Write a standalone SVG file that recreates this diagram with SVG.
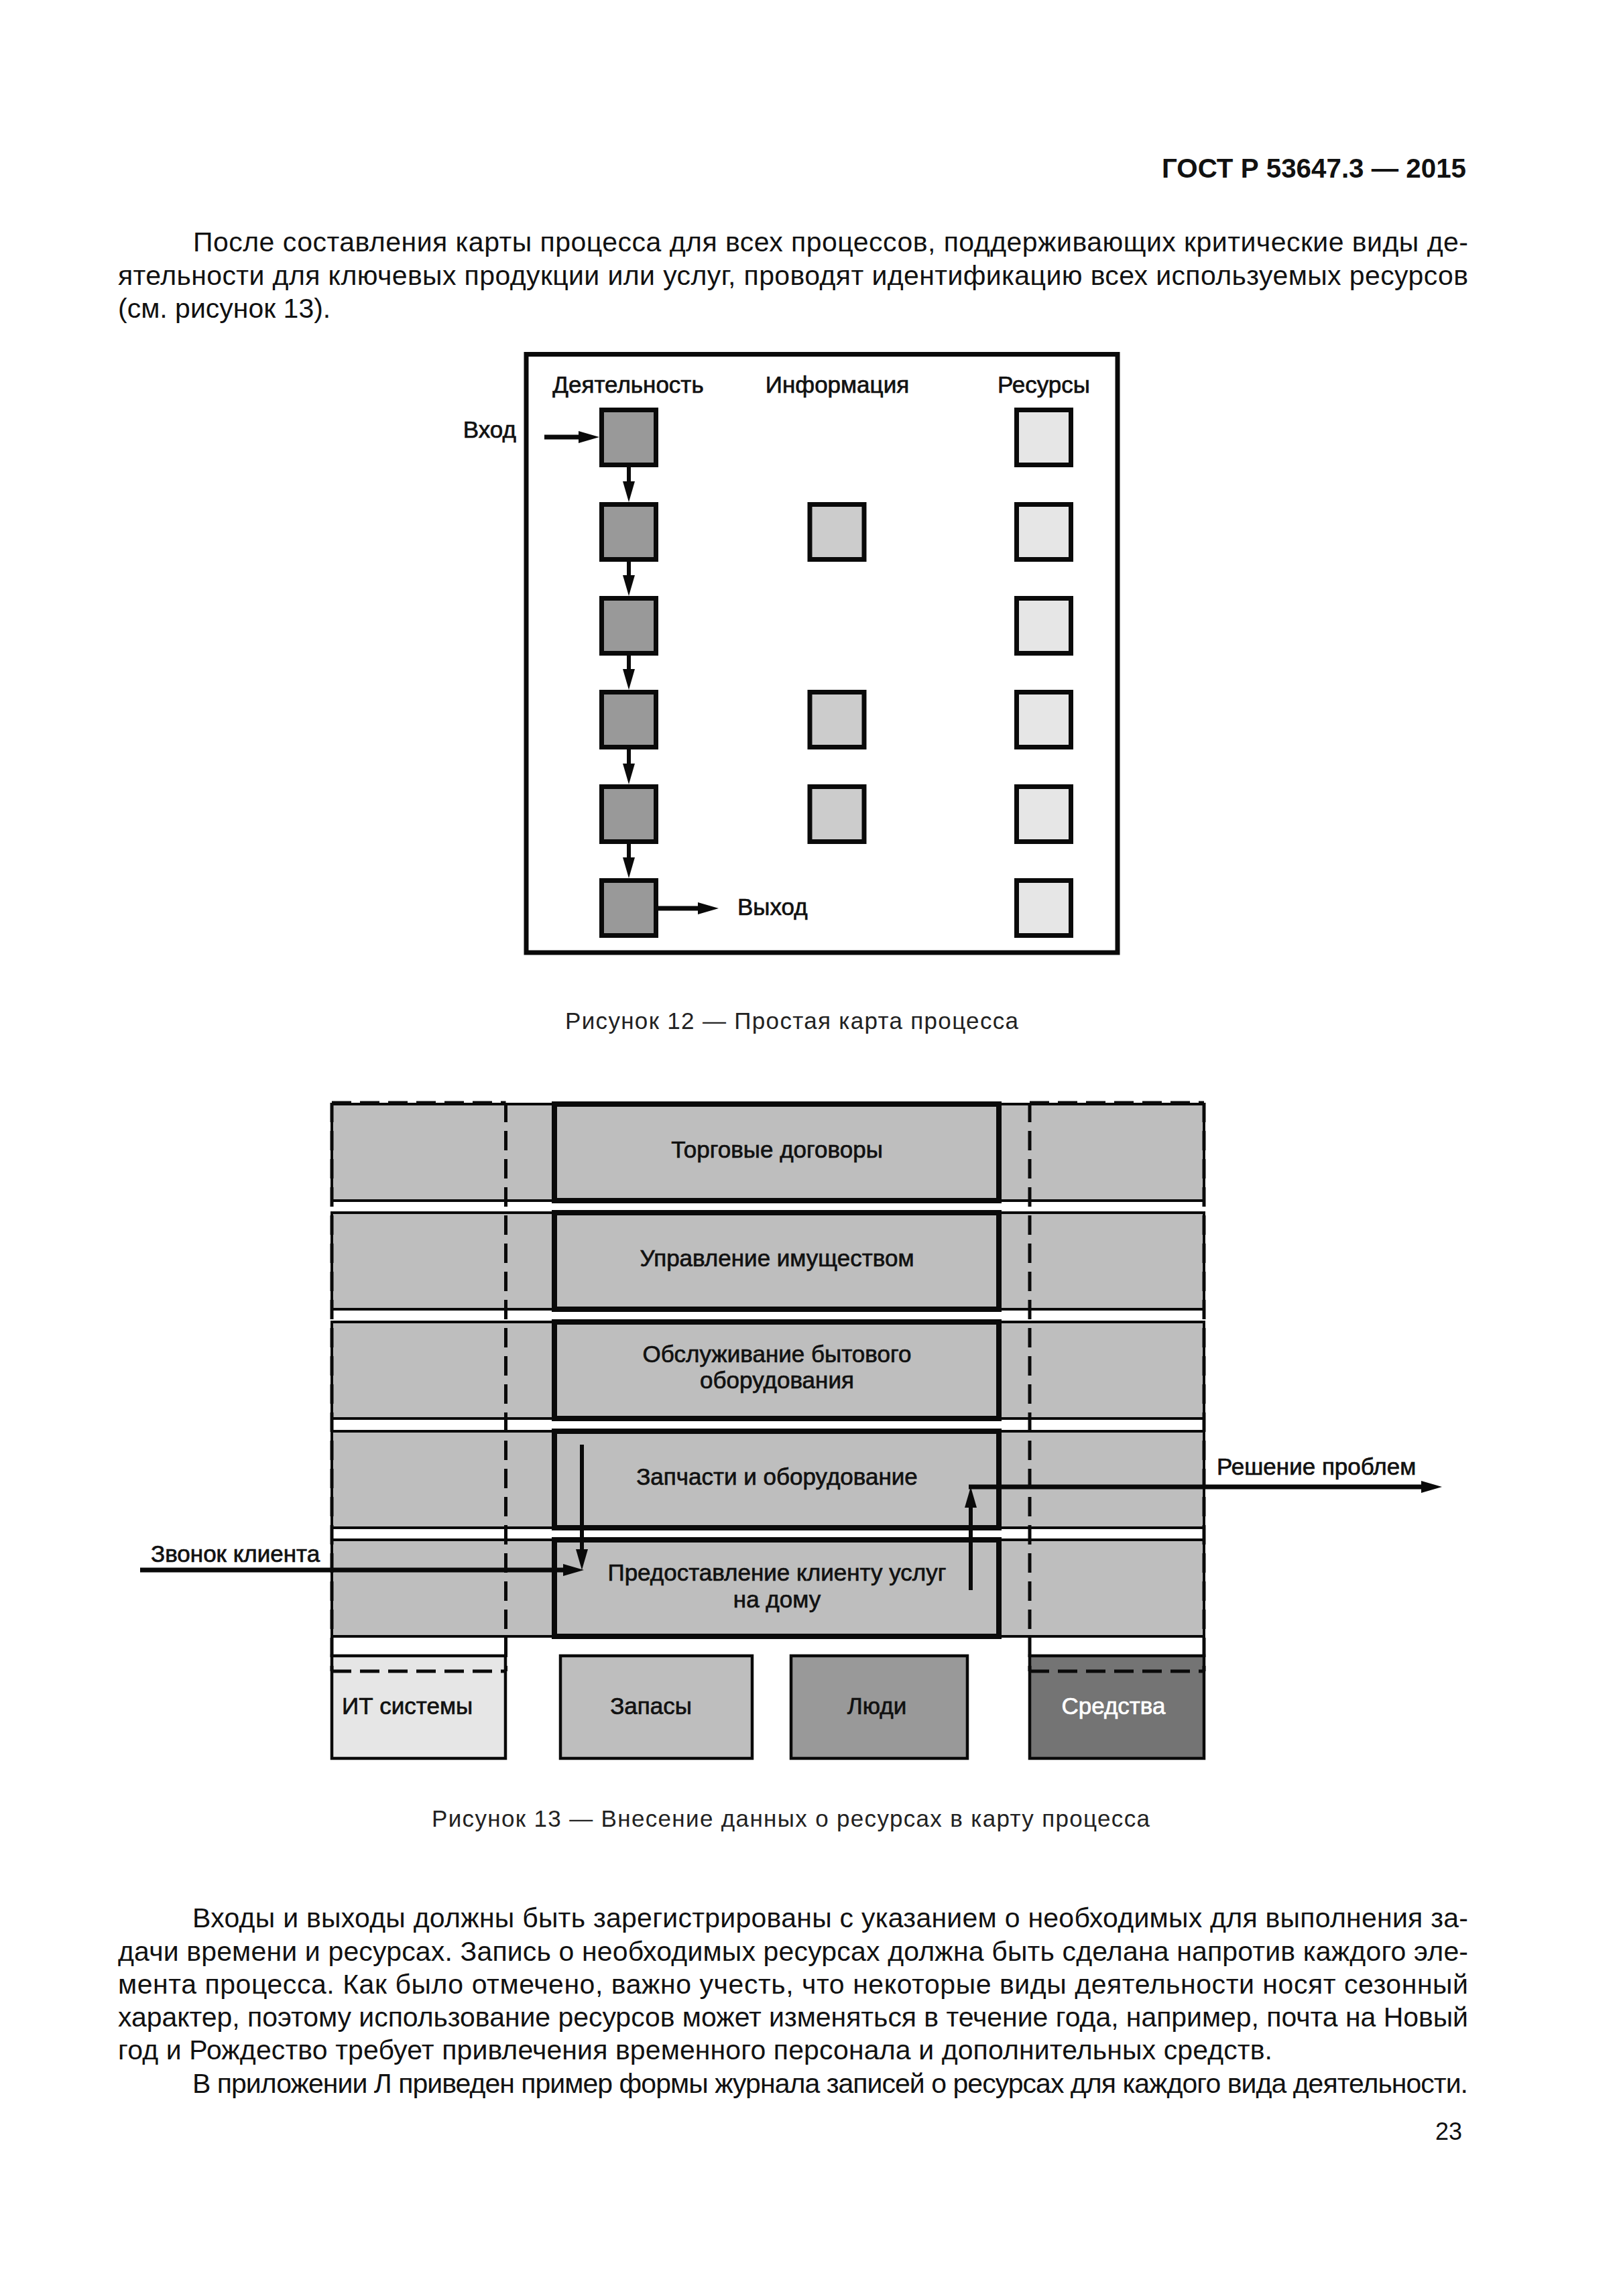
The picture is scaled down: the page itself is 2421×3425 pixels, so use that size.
<svg xmlns="http://www.w3.org/2000/svg" width="2421" height="3425" viewBox="0 0 2421 3425">
<style>
text{font-family:"Liberation Sans",Arial,sans-serif;fill:#111}
.body{font-size:41px}
.cap{font-size:35px;fill:#222}
.lbl{font-size:35px;stroke:#111;stroke-width:0.7}
.lbl13{font-size:35px;stroke:#111;stroke-width:0.7}
.frame{fill:#fff;stroke:#0a0a0a;stroke-width:7}
.act{fill:#999;stroke:#0a0a0a;stroke-width:7}
.inf{fill:#ccc;stroke:#0a0a0a;stroke-width:7}
.res{fill:#e6e6e6;stroke:#0a0a0a;stroke-width:7}
.row{fill:#bebebe;stroke:#0a0a0a;stroke-width:4}
.proc{fill:#bebebe;stroke:#0a0a0a;stroke-width:8}
.rbox{stroke:#0a0a0a;stroke-width:4.5}
.dash{fill:none;stroke:#0a0a0a;stroke-width:5;stroke-dasharray:29 13}
.arr{fill:none;stroke:#0a0a0a;stroke-width:7;marker-end:url(#ah)}
</style>
<defs>
<marker id="ah" viewBox="0 0 31 18" refX="0" refY="9" markerWidth="31" markerHeight="18" markerUnits="userSpaceOnUse" orient="auto">
<path d="M0,0 L31,9 L0,18 z" fill="#0a0a0a"/>
</marker>
</defs>
<rect width="2421" height="3425" fill="#fff"/>

<g id="page-header">
<text x="1733" y="265" font-size="40" font-weight="bold" textLength="454" lengthAdjust="spacingAndGlyphs">ГОСТ Р 53647.3 — 2015</text>
</g>

<g id="para-top" class="body">
<text x="288" y="375" textLength="1902">После составления карты процесса для всех процессов, поддерживающих критические виды де-</text>
<text x="176" y="425" textLength="2014">ятельности для ключевых продукции или услуг, проводят идентификацию всех используемых ресурсов</text>
<text x="176" y="474">(см. рисунок 13).</text>
</g>

<!-- Figure 12 -->
<g id="fig12">
<rect id="fig12-frame" class="frame" x="785" y="528.5" width="882" height="892.5"/>
<g id="fig12-headers" class="lbl" text-anchor="middle">
<text x="937" y="586">Деятельность</text>
<text x="1249" y="586">Информация</text>
<text x="1557" y="586">Ресурсы</text>
</g>
<g id="act1"><rect class="act" x="897.5" y="611.5" width="81" height="82"/></g>
<g id="act2"><rect class="act" x="897.5" y="752.5" width="81" height="82"/></g>
<g id="act3"><rect class="act" x="897.5" y="892.5" width="81" height="82"/></g>
<g id="act4"><rect class="act" x="897.5" y="1032.5" width="81" height="82"/></g>
<g id="act5"><rect class="act" x="897.5" y="1173.5" width="81" height="82"/></g>
<g id="act6"><rect class="act" x="897.5" y="1313.5" width="81" height="82"/></g>
<g id="inf2"><rect class="inf" x="1208" y="752.5" width="81" height="82"/></g>
<g id="inf4"><rect class="inf" x="1208" y="1032.5" width="81" height="82"/></g>
<g id="inf5"><rect class="inf" x="1208" y="1173.5" width="81" height="82"/></g>
<g id="res1"><rect class="res" x="1516.5" y="611.5" width="81" height="82"/></g>
<g id="res2"><rect class="res" x="1516.5" y="752.5" width="81" height="82"/></g>
<g id="res3"><rect class="res" x="1516.5" y="892.5" width="81" height="82"/></g>
<g id="res4"><rect class="res" x="1516.5" y="1032.5" width="81" height="82"/></g>
<g id="res5"><rect class="res" x="1516.5" y="1173.5" width="81" height="82"/></g>
<g id="res6"><rect class="res" x="1516.5" y="1313.5" width="81" height="82"/></g>
<g id="fig12-labels" class="lbl">
<text x="770" y="653" text-anchor="end">Вход</text>
<text x="1100" y="1365">Выход</text>
</g>
<g id="fig12-connectors">
<path class="arr" d="M812,652 H863"/>
<path class="arr" style="stroke-width:6" d="M938,697 V718"/>
<path class="arr" style="stroke-width:6" d="M938,838 V858"/>
<path class="arr" style="stroke-width:6" d="M938,978 V998"/>
<path class="arr" style="stroke-width:6" d="M938,1118 V1139"/>
<path class="arr" style="stroke-width:6" d="M938,1259 V1279"/>
<path class="arr" d="M982,1355 H1041"/>
</g>
</g>
<text class="cap" x="843" y="1535" textLength="676">Рисунок 12 — Простая карта процесса</text>

<!-- Figure 13 -->
<g id="fig13">
<g id="row1"><rect class="row" x="495" y="1647" width="1301" height="144"/><rect class="proc" x="827" y="1647" width="663" height="144"/>
<text class="lbl13" x="1159" y="1727" text-anchor="middle">Торговые договоры</text></g>
<g id="row2"><rect class="row" x="495" y="1809" width="1301" height="144"/><rect class="proc" x="827" y="1809" width="663" height="144"/>
<text class="lbl13" x="1159" y="1889" text-anchor="middle">Управление имуществом</text></g>
<g id="row3"><rect class="row" x="495" y="1972" width="1301" height="144"/><rect class="proc" x="827" y="1972" width="663" height="144"/>
<text class="lbl13" x="1159" y="2032" text-anchor="middle">Обслуживание бытового</text>
<text class="lbl13" x="1159" y="2071" text-anchor="middle">оборудования</text></g>
<g id="row4"><rect class="row" x="495" y="2135" width="1301" height="144"/><rect class="proc" x="827" y="2135" width="663" height="144"/>
<text class="lbl13" x="1159" y="2215" text-anchor="middle">Запчасти и оборудование</text></g>
<g id="row5"><rect class="row" x="495" y="2297" width="1301" height="144"/><rect class="proc" x="827" y="2297" width="663" height="144"/>
<text class="lbl13" x="1159" y="2358" text-anchor="middle">Предоставление клиенту услуг</text>
<text class="lbl13" x="1159" y="2398" text-anchor="middle">на дому</text></g>

<g id="it-systems"><rect class="rbox" x="495" y="2470" width="259" height="153" fill="#e6e6e6"/>
<text class="lbl13" x="510" y="2557">ИТ системы</text></g>
<g id="stocks"><rect class="rbox" x="836" y="2470" width="286" height="153" fill="#bebebe"/>
<text class="lbl13" x="971" y="2557" text-anchor="middle">Запасы</text></g>
<g id="people"><rect class="rbox" x="1180" y="2470" width="263" height="153" fill="#999"/>
<text class="lbl13" x="1308" y="2557" text-anchor="middle">Люди</text></g>
<g id="facilities"><rect class="rbox" x="1536" y="2470" width="260" height="153" fill="#747474"/>
<text class="lbl13" x="1661" y="2557" text-anchor="middle" style="fill:#fff;stroke:#fff">Средства</text></g>

<g id="columns-dashed">
<path class="dash" d="M495,1645 V2493 M754.5,1645 V2493 M495,1645 H754.5 M495,2493 H754.5"/>
<path class="dash" d="M1536,1645 V2493 M1796,1645 V2493 M1536,1645 H1796 M1536,2493 H1796"/>
</g>

<g id="fig13-connectors">
<path class="arr" d="M209,2342 H840"/>
<path class="arr" style="stroke-width:6" d="M868,2155 V2311"/>
<path class="arr" style="stroke-width:6" d="M1448,2372 V2249"/>
<path class="arr" d="M1445,2218 H2120"/>
</g>
<g id="fig13-labels" class="lbl13">
<text x="225" y="2330">Звонок клиента</text>
<text x="1815" y="2200">Решение проблем</text>
</g>
</g>
<text class="cap" x="644" y="2725" textLength="1071">Рисунок 13 — Внесение данных о ресурсах в карту процесса</text>

<g id="para-bottom" class="body">
<text x="287" y="2875" textLength="1903">Входы и выходы должны быть зарегистрированы с указанием о необходимых для выполнения за-</text>
<text x="176" y="2925" textLength="2014">дачи времени и ресурсах. Запись о необходимых ресурсах должна быть сделана напротив каждого эле-</text>
<text x="176" y="2974" textLength="2014">мента процесса. Как было отмечено, важно учесть, что некоторые виды деятельности носят сезонный</text>
<text x="176" y="3023" textLength="2014">характер, поэтому использование ресурсов может изменяться в течение года, например, почта на Новый</text>
<text x="176" y="3072" textLength="1722">год и Рождество требует привлечения временного персонала и дополнительных средств.</text>
<text x="287" y="3122" textLength="1903">В приложении Л приведен пример формы журнала записей о ресурсах для каждого вида деятельности.</text>
</g>
<text x="2181" y="3192" font-size="36" text-anchor="end">23</text>
</svg>
